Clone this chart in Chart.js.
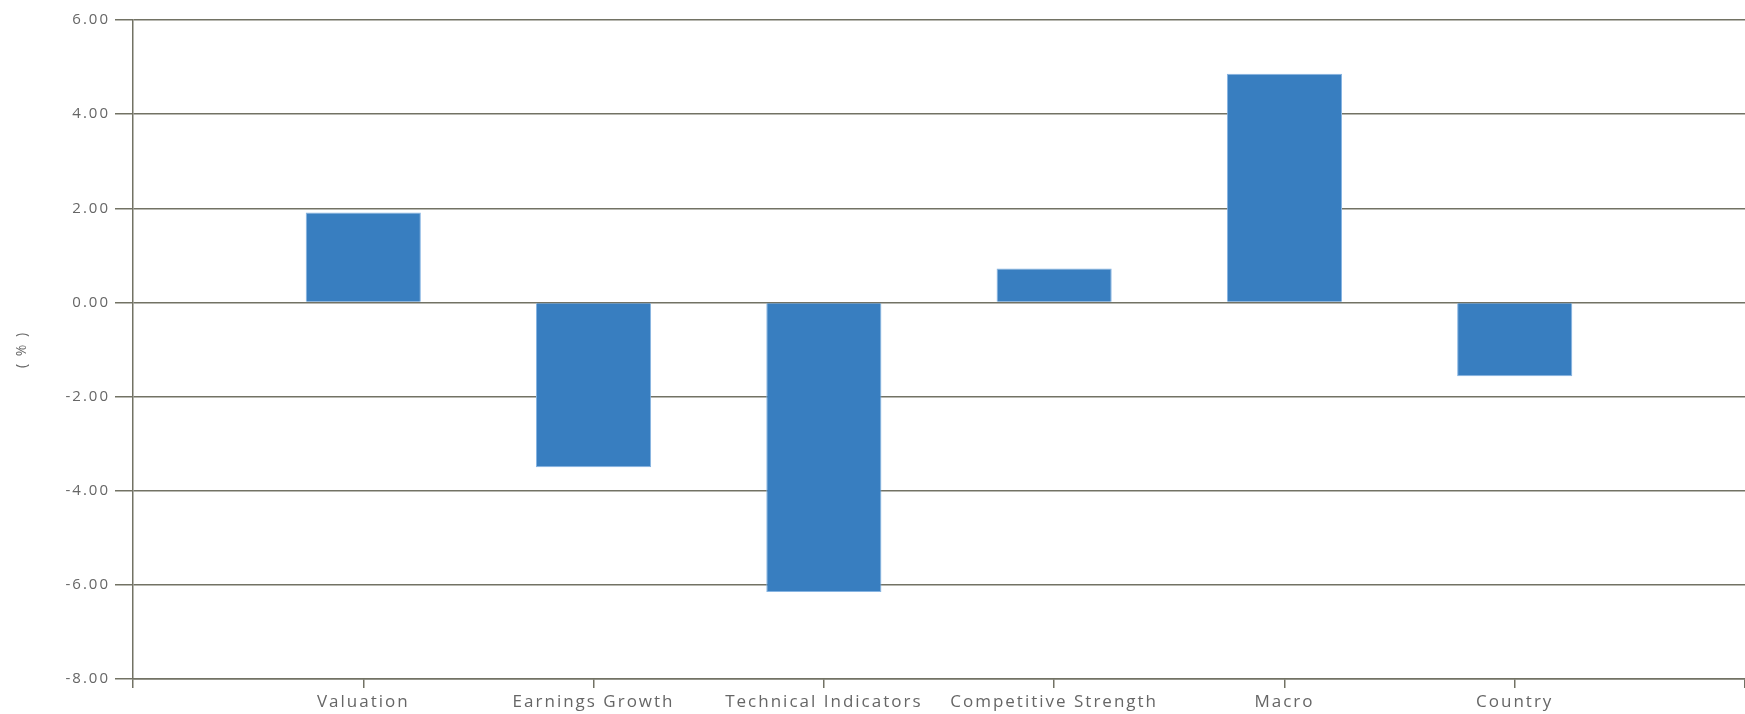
<!DOCTYPE html>
<html>
<head>
<meta charset="utf-8">
<title>Factor contribution</title>
<script src="https://cdn.jsdelivr.net/npm/chart.js@4.4.1/dist/chart.umd.min.js"></script>
<style>
  html, body { margin: 0; padding: 0; background: #ffffff; }
  #wrap { width: 1745px; height: 714px; position: relative; }
</style>
</head>
<body>
<div id="wrap"><canvas id="factorChart"></canvas></div>
<script>
'use strict';

// ─── Data ────────────────────────────────────────────────────────────────────
const categories = ['Valuation', 'Earnings Growth', 'Technical Indicators', 'Competitive Strength', 'Macro', 'Country'];
const values = [1.91, -3.50, -6.15, 0.72, 4.86, -1.57];
const yTicks = [-8, -6, -4, -2, 0, 2, 4, 6];

// ─── Theme ───────────────────────────────────────────────────────────────────
const LINE = '#727264';
const TEXT = '#666666';
const BAR = '#387ec0';
const FONT = "'Open Sans', 'DejaVu Sans', sans-serif";

// canvas text in the original is loosely tracked
const spacingPlugin = {
  id: 'spacing',
  beforeLayout(chart) { chart.ctx.letterSpacing = '2px'; },
  beforeDraw(chart) { chart.ctx.letterSpacing = '2px'; },
};

const ctx = document.getElementById('factorChart').getContext('2d');
new Chart(ctx, {
  type: 'bar',
  data: {
    datasets: [{
      label: '( % )',
      data: values.map((v, i) => ({ x: i, y: v })),
      backgroundColor: BAR,
      borderColor: '#86b4e2',
      borderWidth: 1,
      borderSkipped: 'start',
      categoryPercentage: 0.5,
      barPercentage: 1.0,
    }],
  },
  options: {
    responsive: true, maintainAspectRatio: false,
    animation: false,
    layout: { padding: { top: 20, right: 0, bottom: 0, left: 0 } },
    plugins: { legend: { display: false }, tooltip: { enabled: false } },
    scales: {
      x: {
        type: 'linear',
        offset: false,
        min: -1, max: 6,
        afterFit(scale) {
          scale.height = 35;
          scale.paddingLeft = 0;
          scale.paddingRight = 0;
        },
        afterBuildTicks(scale) {
          scale.ticks = [-1, 0, 1, 2, 3, 4, 5, 6].map(v => ({ value: v }));
        },
        ticks: {
          autoSkip: false,
          maxRotation: 0,
          padding: 4,
          color: TEXT,
          font: { family: FONT, size: 17 },
          callback: v => categories[v] ?? '',
        },
        grid: { offset: false, drawOnChartArea: false, drawTicks: true, tickLength: 9, color: LINE, lineWidth: 1.5 },
        border: { display: true, color: LINE, width: 1.5 },
      },
      y: {
        min: -8, max: 6,
        afterFit(scale) { scale.width = 133; },
        afterBuildTicks(scale) {
          scale.ticks = yTicks.map(v => ({ value: v }));
        },
        ticks: {
          padding: 5,
          color: TEXT,
          font: { family: FONT, size: 15 },
          callback: v => Number(v).toFixed(2),
        },
        title: {
          display: true,
          text: '( % )',
          color: TEXT,
          font: { family: FONT, size: 14 },
          padding: { top: 14, bottom: 0 },
        },
        grid: { color: LINE, lineWidth: 1.5, drawTicks: true, tickLength: 18 },
        border: { display: true, color: LINE, width: 1.5 },
      },
    },
  },
  plugins: [spacingPlugin],
});
</script>
</body>
</html>
